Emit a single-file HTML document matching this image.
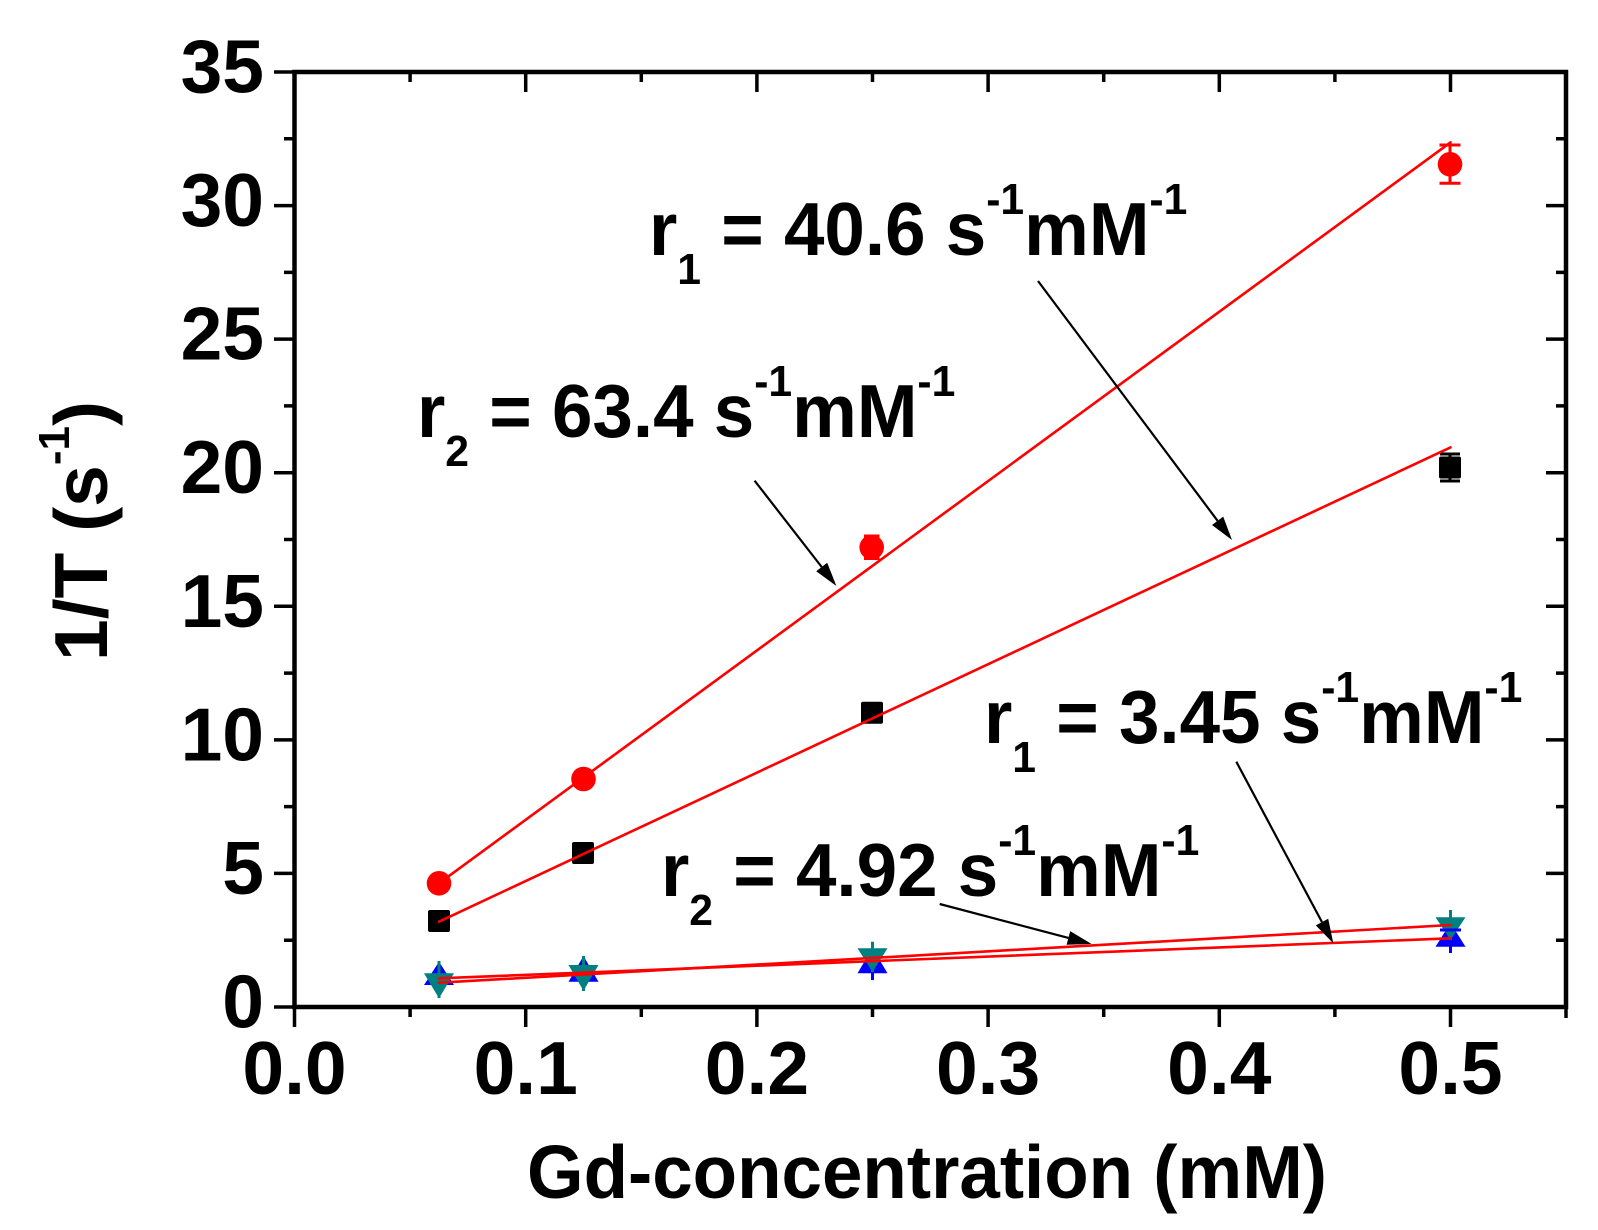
<!DOCTYPE html>
<html>
<head>
<meta charset="utf-8">
<style>
  html,body{margin:0;padding:0;background:#fff;}
  svg{display:block;}
  text{font-family:"Liberation Sans",Arial,sans-serif;font-weight:bold;fill:#000;white-space:pre;}
</style>
</head>
<body>
<svg width="1598" height="1230" viewBox="0 0 1598 1230" xmlns="http://www.w3.org/2000/svg">
  <rect x="0" y="0" width="1598" height="1230" fill="#fff"/>

  <!-- ticks -->
  <g stroke="#000" stroke-width="3.5" fill="none">
    <path d="M274 1007H294.5M274 873.4H294.5M274 739.9H294.5M274 606.3H294.5M274 472.7H294.5M274 339.1H294.5M274 205.6H294.5M274 72H294.5"/>
    <path d="M284 940.2H294.5M284 806.6H294.5M284 673.1H294.5M284 539.5H294.5M284 405.9H294.5M284 272.4H294.5M284 138.8H294.5"/>
    <path d="M1546 873.4H1566M1546 739.9H1566M1546 606.3H1566M1546 472.7H1566M1546 339.1H1566M1546 205.6H1566"/>
    <path d="M1556 940.2H1566M1556 806.6H1566M1556 673.1H1566M1556 539.5H1566M1556 405.9H1566M1556 272.4H1566M1556 138.8H1566"/>
    <path d="M294.5 1007V1027M525.7 1007V1027M756.9 1007V1027M988.1 1007V1027M1219.3 1007V1027M1450.5 1007V1027"/>
    <path d="M410.1 1007V1017M641.3 1007V1017M872.5 1007V1017M1103.7 1007V1017M1334.9 1007V1017M1566 1007V1018"/>
    <path d="M525.7 72V92M756.9 72V92M988.1 72V92M1219.3 72V92M1450.5 72V92"/>
    <path d="M410.1 72V82M641.3 72V82M872.5 72V82M1103.7 72V82M1334.9 72V82"/>
  </g>

  <!-- frame -->
  <rect x="294.5" y="72" width="1271.5" height="935" fill="none" stroke="#000" stroke-width="4.5"/>

  <!-- y tick labels -->
  <g font-size="75" text-anchor="end">
    <text x="264" y="1027.5">0</text>
    <text x="264" y="893.9">5</text>
    <text x="264" y="760.4">10</text>
    <text x="264" y="626.8">15</text>
    <text x="264" y="493.2">20</text>
    <text x="264" y="359.6">25</text>
    <text x="264" y="226.1">30</text>
    <text x="264" y="92.5">35</text>
  </g>

  <!-- x tick labels -->
  <g font-size="75" text-anchor="middle">
    <text x="294.5" y="1094">0.0</text>
    <text x="525.7" y="1094">0.1</text>
    <text x="756.9" y="1094">0.2</text>
    <text x="988.1" y="1094">0.3</text>
    <text x="1219.3" y="1094">0.4</text>
    <text x="1450.5" y="1094">0.5</text>
  </g>

  <!-- axis titles -->
  <text x="527" y="1198" font-size="75" textLength="800" lengthAdjust="spacingAndGlyphs">Gd-concentration (mM)</text>
  <text transform="translate(107,661) rotate(-90)" font-size="75">1/T (s<tspan font-size="44" dy="-38">-1</tspan><tspan dy="38">)</tspan></text>

  <!-- black squares -->
  <g fill="#000">
    <rect x="428" y="910" width="22" height="22" rx="2"/>
    <rect x="572" y="842" width="22" height="22" rx="2"/>
    <rect x="861" y="701.7" width="22" height="22" rx="2"/>
    <rect x="1439" y="456.5" width="22" height="22" rx="2"/>
  </g>
  <g stroke="#000" stroke-width="3" fill="none">
    <path d="M1450 454V481M1440 454H1460M1440 481H1460"/>
  </g>

  <!-- red circles -->
  <g fill="#ff0000">
    <circle cx="439" cy="883.3" r="12.3"/>
    <circle cx="583.5" cy="779" r="12.3"/>
    <circle cx="871.7" cy="547.3" r="12.3"/>
    <circle cx="1450" cy="164.3" r="12.3"/>
  </g>
  <g stroke="#ff0000" stroke-width="3" fill="none">
    <path d="M1450 145V183.3M1439.5 145H1460.5M1439.5 183.3H1460.5"/>
    <path d="M864 536H879.5M864 558.5H879.5"/>
  </g>

  <!-- blue up triangles -->
  <g fill="#0000ff">
    <polygon points="439,961.7 424,985 454,985"/>
    <polygon points="583.5,956 568.5,981.7 598.5,981.7"/>
    <polygon points="872.5,948 857.5,973.3 887.5,973.3"/>
    <polygon points="1450.5,923 1435.5,946.7 1465.5,946.7"/>
  </g>
  <!-- teal down triangles -->
  <g fill="#008080">
    <polygon points="424,973.3 454,973.3 439,998.3"/>
    <polygon points="568.5,965 598.5,965 583.5,990.7"/>
    <polygon points="857.5,948.3 887.5,948.3 872.5,972"/>
    <polygon points="1435.5,917.3 1465.5,917.3 1450.5,940"/>
  </g>
  <g stroke-width="3" fill="none">
    <path stroke="#008080" d="M439 961V998M583.5 956V991M872.5 941.7V972M1450.5 910V940"/>
    <path stroke="#0000ff" d="M872.5 972V980M1450.5 940V953M1440 930H1461"/>
  </g>

  <!-- fit lines -->
  <g stroke="#ff0000" stroke-width="2.6" fill="none" stroke-linecap="round">
    <line x1="439" y1="883.3" x2="1450.5" y2="142.4"/>
    <line x1="439" y1="921.7" x2="1450.5" y2="447.4"/>
    <line x1="439" y1="982.7" x2="1450.5" y2="925"/>
    <line x1="439" y1="978.3" x2="1450.5" y2="938.3"/>
  </g>

  <!-- arrows -->
  <g stroke="#000" stroke-width="2.2" fill="none">
    <line x1="1038" y1="281" x2="1217.6" y2="520.8"/>
    <line x1="754.6" y1="480.7" x2="821.7" y2="567"/>
    <line x1="1236.3" y1="761.7" x2="1322" y2="922.1"/>
    <line x1="939.7" y1="904" x2="1068.4" y2="937.9"/>
  </g>
  <g fill="#000">
    <polygon points="1232,540 1212,525 1223.2,516.6"/>
    <polygon points="836.4,586 816.2,571.3 827.2,562.7"/>
    <polygon points="1333.3,943.3 1315.8,925.4 1328.2,918.8"/>
    <polygon points="1091.6,944 1066.6,944.7 1070.2,931.1"/>
  </g>

  <!-- annotations -->
  <text transform="translate(649,255) scale(0.97,1)" font-size="75">r<tspan font-size="44" dy="29">1</tspan><tspan dy="-29"> = 40.6 s</tspan><tspan font-size="44" dy="-41">-1</tspan><tspan dy="41">mM</tspan><tspan font-size="44" dy="-41">-1</tspan></text>
  <text transform="translate(417,437) scale(0.97,1)" font-size="75">r<tspan font-size="44" dy="29">2</tspan><tspan dy="-29"> = 63.4 s</tspan><tspan font-size="44" dy="-41">-1</tspan><tspan dy="41">mM</tspan><tspan font-size="44" dy="-41">-1</tspan></text>
  <text transform="translate(984,743) scale(0.97,1)" font-size="75">r<tspan font-size="44" dy="29">1</tspan><tspan dy="-29"> = 3.45 s</tspan><tspan font-size="44" dy="-41">-1</tspan><tspan dy="41">mM</tspan><tspan font-size="44" dy="-41">-1</tspan></text>
  <text transform="translate(661,896) scale(0.97,1)" font-size="75">r<tspan font-size="44" dy="29">2</tspan><tspan dy="-29"> = 4.92 s</tspan><tspan font-size="44" dy="-41">-1</tspan><tspan dy="41">mM</tspan><tspan font-size="44" dy="-41">-1</tspan></text>
</svg>
</body>
</html>
